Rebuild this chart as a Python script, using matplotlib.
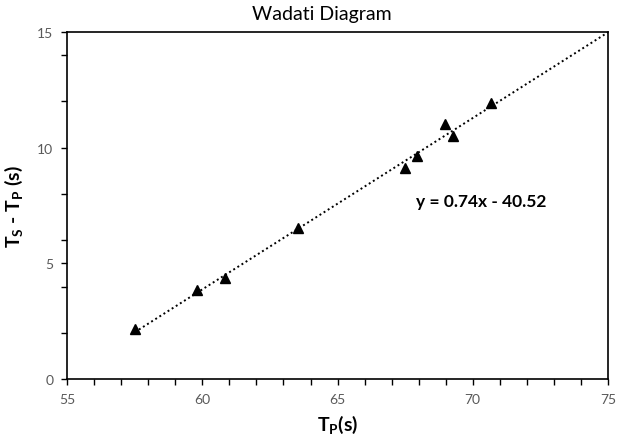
import matplotlib.pyplot as plt
from matplotlib.ticker import MultipleLocator
import numpy as np

plt.rcParams['font.family'] = ['Lato', 'DejaVu Sans']
plt.rcParams['mathtext.fontset'] = 'custom'
plt.rcParams['mathtext.rm'] = 'Lato'
plt.rcParams['mathtext.bf'] = 'Lato:bold'

# P arrival times and S-P interval (seconds)
tp = [57.5, 59.8, 60.85, 63.55, 67.5, 67.95, 68.97, 69.27, 70.67]
ts_tp = [2.15, 3.85, 4.37, 6.52, 9.12, 9.64, 11.02, 10.52, 11.93]

slope, intercept = 0.74, -40.52

fig = plt.figure(figsize=(6.28, 4.39), dpi=100)
ax = fig.add_axes([0.107, 0.134, 0.861, 0.791])

xfit = np.array([min(tp), 75])
ax.plot(xfit, slope * xfit + intercept, color='black', linestyle=(0, (1, 1.5)), linewidth=1.4, zorder=2)
ax.plot(tp, ts_tp, linestyle='none', marker='^', color='black', markersize=7.5, zorder=3)

ax.text(67.9, 7.7, 'y = 0.74x - 40.52', fontsize=12.5, fontweight='bold', va='center', ha='left')

ax.set_xlim(55, 75)
ax.set_ylim(0, 15)
ax.xaxis.set_major_locator(MultipleLocator(5))
ax.xaxis.set_minor_locator(MultipleLocator(1))
ax.yaxis.set_major_locator(MultipleLocator(5))
ax.yaxis.set_minor_locator(MultipleLocator(2))
ax.tick_params(which='both', direction='out', length=4, width=1, colors='black',
               labelcolor='#595959', labelsize=10)
ax.tick_params(axis='x', pad=6)
ax.tick_params(axis='y', pad=6)
for s in ax.spines.values():
    s.set_linewidth(1.2)

ax.set_xlabel(r'$\mathbf{T}_{\mathbf{P}}$(s)', fontsize=14, fontweight='bold', labelpad=5)
ax.set_ylabel(r'$\mathbf{T}_{\mathbf{S}}$ - $\mathbf{T}_{\mathbf{P}}$ (s)', fontsize=14, fontweight='bold', labelpad=9)
fig.text(0.513, 0.966, 'Wadati Diagram', fontsize=14, ha='center', va='center')

fig.savefig('out.png', dpi=100)
